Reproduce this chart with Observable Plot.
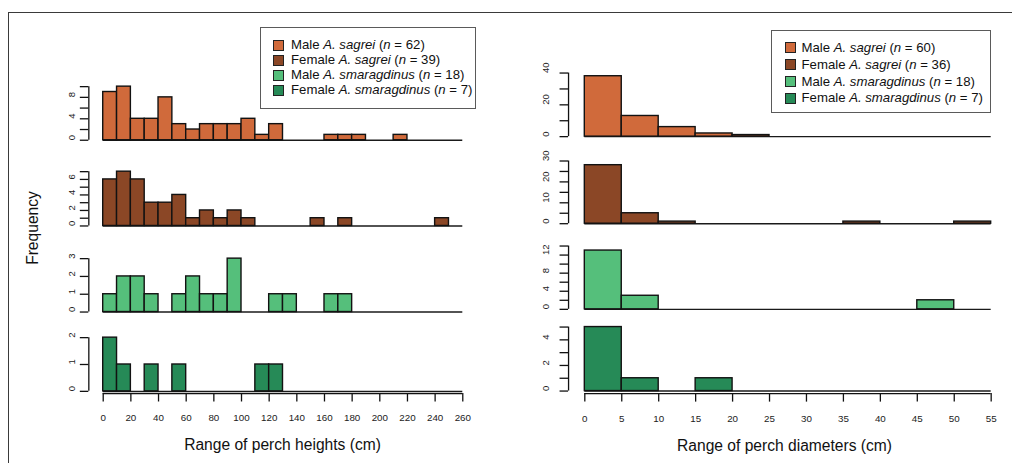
<!DOCTYPE html>
<html>
<head>
<meta charset="utf-8">
<script src="https://cdn.jsdelivr.net/npm/d3@7"></script>
<script src="https://cdn.jsdelivr.net/npm/@observablehq/plot@0.6"></script>
<style>
  html, body { margin: 0; padding: 0; background: #fff; overflow: hidden; }
  #fig { position: relative; width: 1012px; height: 463px; font-family: "Liberation Sans", Arial, Helvetica, sans-serif; color: #111; overflow: hidden; }
  #frame { position: absolute; left: 8px; top: 12px; width: 1200px; height: 700px; border: 1.5px solid #3a3a3a; box-sizing: border-box; }
  .panel { position: absolute; }
  .legend { position: absolute; border: 1px solid #5a5a5a; background: #fff; box-sizing: border-box; font-size: 13.2px; }
  .legend .row { position: absolute; white-space: nowrap; line-height: 1; }
  .legend .sw { position: absolute; width: 9px; height: 9px; border: 1px solid #222; box-sizing: content-box; }
  .title { position: absolute; white-space: nowrap; font-size: 15.6px; transform: translate(-50%, -50%); }
  .ytitle { position: absolute; white-space: nowrap; font-size: 15.6px; transform: translate(-50%, -50%) rotate(-90deg); }
</style>
</head>
<body>
<div id="fig"><div id="frame"></div></div>
<script>
// ---------------- DATA ----------------
// Perch heights (cm), bins of 10
const heightBinStarts = [0,10,20,30,40,50,60,70,80,90,100,110,120,130,140,150,160,170,180,190,200,210,220,230,240,250];
const heightBinWidth = 10;
const heightXTicks = [0,20,40,60,80,100,120,140,160,180,200,220,240,260];
const maleSagreiHeights      = [9,10,4,4,8,3,2,3,3,3,4,1,3,0,0,0,1,1,1,0,0,1,0,0,0,0];
const femaleSagreiHeights    = [6,7,6,3,3,4,1,2,1,2,1,0,0,0,0,1,0,1,0,0,0,0,0,0,1,0];
const maleSmaragdinusHeights = [1,2,2,1,0,1,2,1,1,3,0,0,1,1,0,0,1,1,0,0,0,0,0,0,0,0];
const femaleSmaragdinusHeights = [2,1,0,1,0,1,0,0,0,0,0,1,1,0,0,0,0,0,0,0,0,0,0,0,0,0];
const heightYTicks  = [[0,2,4,6,8,10],[0,1,2,3,4,5,6,7],[0,1,2,3],[0,1,2]];
const heightYLabels = [[0,4,8],[0,2,4,6],[0,1,2,3],[0,1,2]];

// Perch diameters (cm), bins of 5
const diameterBinStarts = [0,5,10,15,20,25,30,35,40,45,50];
const diameterBinWidth = 5;
const diameterXTicks = [0,5,10,15,20,25,30,35,40,45,50,55];
const maleSagreiDiameters       = [38,13,6,2,1,0,0,0,0,0,0];
const femaleSagreiDiameters     = [28,5,1,0,0,0,0,1,0,0,1];
const maleSmaragdinusDiameters  = [13,3,0,0,0,0,0,0,0,2,0];
const femaleSmaragdinusDiameters = [5,1,0,1,0,0,0,0,0,0,0];
const diameterYTicks  = [[0,10,20,30,40],[0,5,10,15,20,25,30],[0,2,4,6,8,10,12,14],[0,1,2,3,4,5]];
const diameterYLabels = [[0,20,40],[0,10,20,30],[0,4,8,12],[0,2,4]];

// Groups / legend
const groupSex = ["Male", "Female", "Male", "Female"];
const groupSpecies = ["A. sagrei", "A. sagrei", "A. smaragdinus", "A. smaragdinus"];
const heightN = [62, 39, 18, 7];
const diameterN = [60, 36, 18, 7];
const groupColors = ["#d06a3b", "#8b4726", "#55bf7b", "#268a57"];

const xTitleHeights = "Range of perch heights (cm)";
const xTitleDiameters = "Range of perch diameters (cm)";
const yTitle = "Frequency";

// ---------------- LAYOUT ----------------
const layout = {
  left:  {colLeft: 0,   colWidth: 500, x0: 102.7, x1: 462.3,
          base: [139.3, 225, 311.7, 391], top: [85.7, 170.7, 258.3, 337.3], yLabelDx: -16.5,
          legend: {left: 260, top: 27, width: 216, height: 82, rowTop: 17.3, rowStep: 15, swLeft: 12, textLeft: 30}},
  right: {colLeft: 500, colWidth: 512, x0: 584.3, x1: 990.7,
          base: [136.3, 223, 309, 390.3], top: [72.7, 160.3, 245.7, 326.3], yLabelDx: -23,
          legend: {left: 771, top: 30, width: 220, height: 83, rowTop: 16.7, rowStep: 16.9, swLeft: 13, textLeft: 29.5}}
};
const fig = document.getElementById("fig");
const fontFamily = '"Liberation Sans", Arial, Helvetica, sans-serif';

function drawPanel(col, row, starts, binW, counts, color, yTicks, yLabels, xTicks, isBottom) {
  const L = layout[col];
  const xMax = xTicks[xTicks.length - 1];
  const pxPerX = (L.x1 - L.x0) / xMax;
  const xDom = [-0.04 * xMax, 1.04 * xMax];
  const frameLeft = L.x0 + xDom[0] * pxPerX;
  const frameRight = L.x0 + xDom[1] * pxPerX;
  const yLim = yTicks[yTicks.length - 1];
  const base = L.base[row], top = L.top[row];
  const pxPerY = (base - top) / yLim;
  const yDom = [-0.04 * yLim, 1.04 * yLim];
  const frameTop = base - yDom[1] * pxPerY;
  const frameBottom = base - yDom[0] * pxPerY;
  const mt = 20, mb = isBottom ? 70 : 10;
  const height = mt + (frameBottom - frameTop) + mb;

  const bins = starts.map((s, i) => ({x1: s, x2: s + binW, count: counts[i]})).filter(d => d.count > 0);

  const marks = [
    Plot.ruleY([0], {x1: 0, x2: xMax, stroke: "#1a1a1a", strokeWidth: 1.4}),
    Plot.rect(bins, {x1: "x1", x2: "x2", y1: 0, y2: "count", fill: color, stroke: "#121212", strokeWidth: 1.4}),
    Plot.ruleX([xDom[0]], {y1: 0, y2: yLim, stroke: "#111", strokeWidth: 1.3}),
    Plot.axisY(yTicks, {tickSize: 8.5, tickFormat: () => "", label: null, stroke: "#111", strokeWidth: 1.3}),
    Plot.text(yLabels, {y: d => d, text: d => `${d}`, frameAnchor: "left", rotate: -90, dx: L.yLabelDx, fontSize: 9.5, fill: "#222"})
  ];
  if (isBottom) {
    marks.push(
      Plot.ruleY([yDom[0]], {x1: 0, x2: xMax, stroke: "#111", strokeWidth: 1.3}),
      Plot.axisX(xTicks, {tickSize: 8.5, tickPadding: 12.5, label: null, fontSize: 9.8, stroke: "#111", strokeWidth: 1.3, fill: "#222"})
    );
  }

  const svg = Plot.plot({
    width: L.colWidth,
    height,
    marginTop: mt,
    marginBottom: mb,
    marginLeft: frameLeft - L.colLeft,
    marginRight: L.colLeft + L.colWidth - frameRight,
    x: {domain: xDom, axis: null},
    y: {domain: yDom, axis: null},
    style: {background: "transparent", overflow: "visible", fontFamily, fontSize: "9.5px", color: "#111"},
    marks
  });
  const wrap = document.createElement("div");
  wrap.className = "panel";
  wrap.style.left = L.colLeft + "px";
  wrap.style.top = (frameTop - mt) + "px";
  wrap.appendChild(svg);
  fig.appendChild(wrap);
}

function drawLegend(col, nValues) {
  const g = layout[col].legend;
  const box = document.createElement("div");
  box.className = "legend";
  Object.assign(box.style, {left: g.left + "px", top: g.top + "px", width: g.width + "px", height: g.height + "px"});
  groupSex.forEach((sex, i) => {
    const sw = document.createElement("div");
    sw.className = "sw";
    Object.assign(sw.style, {left: g.swLeft + "px", top: (g.rowTop + i * g.rowStep - 5.5) + "px", background: groupColors[i]});
    box.appendChild(sw);
    const t = document.createElement("div");
    t.className = "row";
    Object.assign(t.style, {left: g.textLeft + "px", top: (g.rowTop + i * g.rowStep - 7) + "px"});
    t.innerHTML = `${sex} <i>${groupSpecies[i]}</i> (<i>n</i> = ${nValues[i]})`;
    box.appendChild(t);
  });
  fig.appendChild(box);
}

function addText(cls, text, x, y) {
  const d = document.createElement("div");
  d.className = cls;
  d.textContent = text;
  d.style.left = x + "px";
  d.style.top = y + "px";
  fig.appendChild(d);
}

const heightSeries = [maleSagreiHeights, femaleSagreiHeights, maleSmaragdinusHeights, femaleSmaragdinusHeights];
const diameterSeries = [maleSagreiDiameters, femaleSagreiDiameters, maleSmaragdinusDiameters, femaleSmaragdinusDiameters];

heightSeries.forEach((counts, i) =>
  drawPanel("left", i, heightBinStarts, heightBinWidth, counts, groupColors[i], heightYTicks[i], heightYLabels[i], heightXTicks, i === 3));
diameterSeries.forEach((counts, i) =>
  drawPanel("right", i, diameterBinStarts, diameterBinWidth, counts, groupColors[i], diameterYTicks[i], diameterYLabels[i], diameterXTicks, i === 3));

drawLegend("left", heightN);
drawLegend("right", diameterN);

addText("title", xTitleHeights, (layout.left.x0 + layout.left.x1) / 2, 445);
addText("title", xTitleDiameters, (layout.right.x0 + layout.right.x1) / 2 - 3, 446);
addText("ytitle", yTitle, 33, 228);
</script>
</body>
</html>
